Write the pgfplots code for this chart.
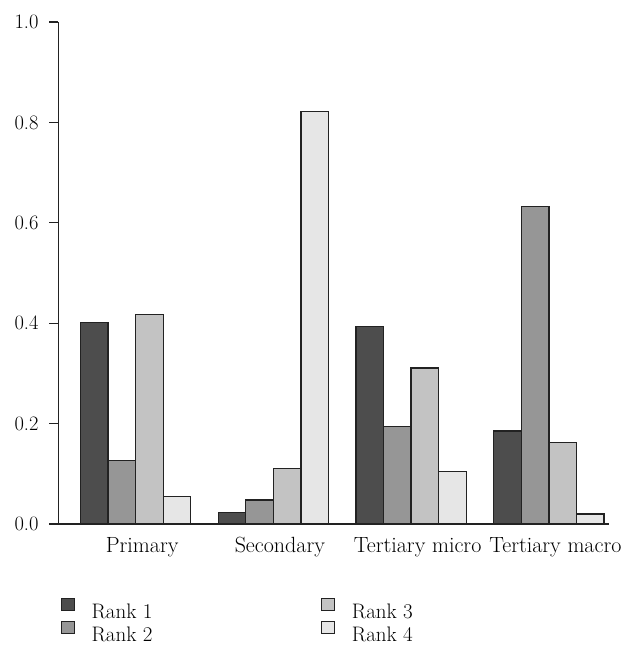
\documentclass[border=0pt]{standalone}
\usepackage{fontspec}
\usepackage{pgfplots}
\pgfplotsset{compat=1.18}
\definecolor{rA}{HTML}{4D4D4D}
\definecolor{rB}{HTML}{969696}
\definecolor{rC}{HTML}{C3C3C3}
\definecolor{rD}{HTML}{E6E6E6}
\definecolor{edge}{HTML}{222222}
\begin{document}
\begin{tikzpicture}
\begin{axis}[
  scale only axis, width=550pt, height=502pt,
  xmin=-0.56, xmax=3.433, ymin=0, ymax=1,
  axis x line*=bottom, axis y line*=left,
  axis line style={-, line width=1.2pt, color=edge},
  ybar=0pt, bar width=0.2,
  xtick={0,1,2,3},
  xticklabels={Primary,Secondary,Tertiary micro,Tertiary macro},
  x tick style={draw=none},
  xticklabel style={font=\fontsize{22}{26}\selectfont, anchor=base, yshift=-19pt, xshift=6.5pt},
  ytick={0,0.2,0.4,0.6,0.8,1.0},
  yticklabel style={font=\fontsize{20.5}{24}\selectfont, inner sep=0pt, xshift=-10.8pt,
    /pgf/number format/assume math mode=true,
    /pgf/number format/fixed, /pgf/number format/fixed zerofill, /pgf/number format/precision=1},
  y tick style={line width=1.2pt, color=edge},
  tick align=outside, major tick length=9pt,
  legend columns=2, transpose legend,
  legend cell align=left,
  legend style={at={(0.0045,-0.147)}, anchor=north west, draw=none, inner sep=0pt,
    font=\fontsize{21}{25}\selectfont, nodes={inner sep=0pt},
    column sep=16.5pt, /tikz/every even column/.append style={column sep=169pt},
    row sep=1.5pt},
  legend image code/.code={\draw[#1, line width=1pt] (0pt,1pt) rectangle (13pt,13pt);},
]
\addplot[fill=rA, draw=edge, line width=1.3pt] coordinates {(0,0.402) (1,0.023) (2,0.393) (3,0.185)};
\addplot[fill=rB, draw=edge, line width=1.3pt] coordinates {(0,0.127) (1,0.048) (2,0.194) (3,0.633)};
\addplot[fill=rC, draw=edge, line width=1.3pt] coordinates {(0,0.417) (1,0.110) (2,0.311) (3,0.163)};
\addplot[fill=rD, draw=edge, line width=1.3pt] coordinates {(0,0.055) (1,0.822) (2,0.105) (3,0.020)};
\legend{Rank 1, Rank 2, Rank 3, Rank 4}
\end{axis}
\path (-58.5pt,-136pt) rectangle (579.5pt,524pt);
\end{tikzpicture}
\end{document}
